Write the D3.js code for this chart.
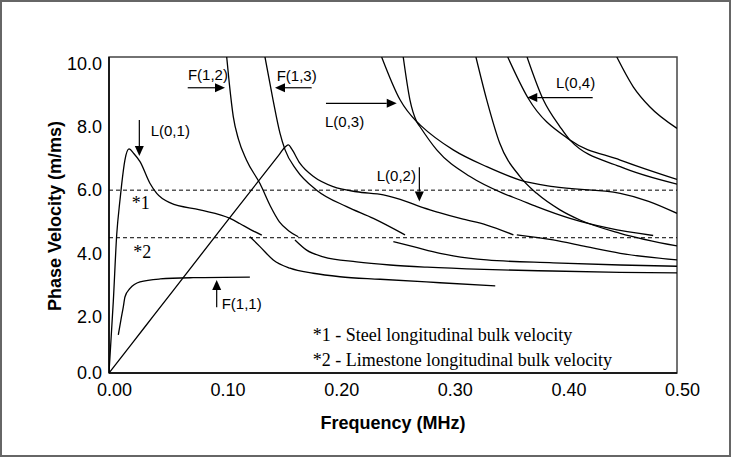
<!DOCTYPE html>
<html>
<head>
<meta charset="utf-8">
<title>Phase velocity dispersion curves</title>
<script src="https://cdn.jsdelivr.net/npm/d3@7"></script>
<style>
body { margin: 0; background: #fff; }
svg text { font-family: "Liberation Sans", Arial, sans-serif; }
.serif { font-family: "Liberation Serif", "Times New Roman", serif; }
</style>
</head>
<body>
<svg id="chart" width="731" height="457"></svg>
<script>
// axis ticks
var xTicks = [0, 0.1, 0.2, 0.3, 0.4, 0.5];
var yTicks = [0, 2, 4, 6, 8, 10];

// bulk velocities (dashed reference lines), m/ms
var bulkVelocities = [6.0, 4.5];

// dispersion curves, [frequency MHz, phase velocity m/ms]
var L01 = [[0,0],[0.0038,2.5],[0.0068,4.6],[0.0097,5.7],[0.0112,6.2],[0.014,6.95],[0.0176,7.3],
  [0.022,7.15],[0.0273,6.9],[0.036,6.22],[0.042,5.9],[0.054,5.6],[0.08,5.38],[0.1065,5.11],
  [0.115,4.95],[0.125,4.75],[0.1345,4.58]];
var F11 = [[0.0082,1.36],[0.0105,1.9],[0.0126,2.32],[0.0141,2.64],[0.0185,2.9],[0.0273,3.11],
  [0.045,3.2],[0.074,3.24],[0.124,3.26]];
var L02 = [[0,0],[0.02,1.04],[0.0386,2.01],[0.1,4.84],[0.15,7.13],[0.1555,7.38],[0.158,7.43],
  [0.1608,7.3],[0.168,6.85],[0.18,6.43],[0.1974,6.11],[0.218,5.95],[0.2415,5.85],[0.262,5.64],
  [0.2738,5.48],[0.29,5.3],[0.31,5.1],[0.3325,4.9],[0.356,4.59]];
var F12 = [[0.1036,10.2],[0.1059,9.37],[0.1094,8.32],[0.114,7.6],[0.121,6.95],[0.133,6.2],
  [0.142,5.5],[0.15,5.0],[0.158,4.72],[0.1666,4.53]];
var F13 = [[0.1373,10.2],[0.1444,8.85],[0.1505,7.8],[0.155,7.27],[0.165,6.64],[0.1828,6.0],
  [0.2092,5.48],[0.2327,5.11],[0.2606,4.59]];
var lowA = [[0.1241,4.53],[0.1329,4.22],[0.1446,3.8],[0.1593,3.54],[0.1798,3.38],[0.2033,3.27],
  [0.2386,3.19],[0.2914,3.08],[0.34,2.98]];
var lowB = [[0.1637,4.43],[0.174,4.11],[0.1886,3.9],[0.218,3.74],[0.2474,3.64],[0.28,3.57],
  [0.33,3.5],[0.39,3.45],[0.45,3.41],[0.5,3.39]];
var lowC = [[0.2503,4.375],[0.2679,4.22],[0.2914,4.01],[0.303,3.93],[0.3325,3.8],[0.391,3.71],
  [0.45,3.64],[0.5,3.6]];
var lowD = [[0.359,4.59],[0.391,4.43],[0.42,4.22],[0.45,4.01],[0.5,3.8]];
var top1 = [[0.240,10.2],[0.2562,8.85],[0.2709,8.16],[0.2738,8.06],[0.303,7.27],[0.3325,6.74],
  [0.3618,6.32],[0.391,6.11],[0.45,5.9],[0.475,5.65],[0.5,5.27]];
var top2 = [[0.259,10.2],[0.2649,8.85],[0.2709,8.16],[0.2738,8.0],[0.2885,7.27],[0.3178,6.43],
  [0.347,5.9],[0.362,5.69],[0.3765,5.48],[0.4058,5.11],[0.44,4.8],[0.479,4.57]];
var top3 = [[0.323,10.2],[0.3325,8.85],[0.344,7.48],[0.3618,6.43],[0.3765,5.9],[0.397,5.38],
  [0.4146,5.06],[0.45,4.64],[0.5,4.24]];
var top4 = [[0.351,10.2],[0.369,8.9],[0.4058,7.58],[0.45,6.95],[0.5,6.34]];
var top5 = [[0.368,10.2],[0.3823,8.85],[0.397,8.0],[0.4058,7.58],[0.45,6.74],[0.5,6.19]];
var top6 = [[0.447,10.2],[0.4615,9.26],[0.476,8.63],[0.5,7.95]];

var curves = [L01, F11, L02, F12, F13, lowA, lowB, lowC, lowD, top1, top2, top3, top4, top5, top6];

// mode labels with their arrows (data units)
var annotations = [
  {text: "F(1,2)", at: [0.0695, 9.46], from: [0.0693, 9.23], to: [0.1021, 9.23]},
  {text: "L(0,1)", at: [0.0367, 7.71], from: [0.0267, 8.21], to: [0.0267, 7.08]},
  {text: "F(1,3)", at: [0.1476, 9.45], from: [0.1784, 9.23], to: [0.1461, 9.23]},
  {text: "L(0,3)", at: [0.1901, 8.0], from: [0.191, 8.74], to: [0.2533, 8.74]},
  {text: "L(0,2)", at: [0.2357, 6.3], from: [0.2732, 6.72], to: [0.2732, 5.64]},
  {text: "L(0,4)", at: [0.3935, 9.21], from: [0.4258, 8.92], to: [0.3682, 8.92]},
  {text: "F(1,1)", at: [0.0992, 2.25], from: [0.0948, 2.31], to: [0.0948, 3.17]}
];
var notes = [
  {text: "*1", at: [0.02, 5.4]},
  {text: "*2", at: [0.0214, 3.85]},
  {text: "*1 - Steel longitudinal bulk velocity", at: [0.1793, 1.14]},
  {text: "*2 - Limestone longitudinal bulk velocity", at: [0.1793, 0.26]}
];

var svg = d3.select("#chart");
var plotL = 109, plotR = 677, plotT = 57, plotB = 373;

var x = d3.scaleLinear().domain([0, 0.5]).range([plotL, plotR]);
var y = d3.scaleLinear().domain([0, 2, 10.2]).range([plotB, 317, plotT]);

svg.append("rect").attr("width", 731).attr("height", 457).attr("fill", "#fff");
svg.append("rect")
  .attr("x", 1).attr("y", 1).attr("width", 729).attr("height", 455)
  .attr("fill", "none").attr("stroke", "#666").attr("stroke-width", 2);

svg.append("clipPath").attr("id", "plotClip")
  .append("rect").attr("x", plotL).attr("y", plotT)
  .attr("width", plotR - plotL).attr("height", plotB - plotT);

// plot frame
svg.append("rect")
  .attr("x", plotL).attr("y", plotT).attr("width", plotR - plotL).attr("height", plotB - plotT)
  .attr("fill", "none").attr("stroke", "#444").attr("stroke-width", 1.5);

// dashed bulk velocity lines
svg.selectAll(".bulk").data(bulkVelocities).enter().append("line")
  .attr("x1", plotL).attr("x2", plotR)
  .attr("y1", function(d) { return y(d); }).attr("y2", function(d) { return y(d); })
  .attr("stroke", "#000").attr("stroke-width", 1).attr("stroke-dasharray", "4,3");

var line = d3.line()
  .x(function(d) { return x(d[0]); })
  .y(function(d) { return y(d[1]); })
  .curve(d3.curveMonotoneX);

svg.append("g").attr("clip-path", "url(#plotClip)")
  .selectAll("path").data(curves).enter().append("path")
  .attr("d", line).attr("fill", "none")
  .attr("stroke", "#000").attr("stroke-width", 1.3);

// axes
var xAxis = svg.append("g").attr("transform", "translate(0," + plotB + ")")
  .call(d3.axisBottom(x).tickValues(xTicks).tickFormat(d3.format(".2f")).tickSize(0).tickPadding(10));
var yAxis = svg.append("g").attr("transform", "translate(" + plotL + ",0)")
  .call(d3.axisLeft(y).tickValues(yTicks).tickFormat(d3.format(".1f")).tickSize(0).tickPadding(7));
[xAxis, yAxis].forEach(function(g) {
  g.select(".domain").remove();
  g.attr("font-family", "Liberation Sans, Arial, sans-serif").attr("font-size", 18).attr("color", "#000");
});
xAxis.selectAll("text").attr("dx", 5);

svg.append("line").attr("x1", plotL).attr("x2", plotL).attr("y1", plotT).attr("y2", plotB)
  .attr("stroke", "#000").attr("stroke-width", 1.5);
svg.append("line").attr("x1", plotL).attr("x2", plotR).attr("y1", plotB).attr("y2", plotB)
  .attr("stroke", "#000").attr("stroke-width", 1.5);

svg.append("text").attr("x", (plotL + plotR) / 2).attr("y", 429)
  .attr("text-anchor", "middle").attr("font-weight", "bold").attr("font-size", 18)
  .text("Frequency (MHz)");
svg.append("text").attr("transform", "translate(60.5,216) rotate(-90)")
  .attr("text-anchor", "middle").attr("font-weight", "bold").attr("font-size", 18)
  .text("Phase Velocity (m/ms)");

// mode labels and arrows
function arrow(p1, p2) {
  var x1 = x(p1[0]), y1 = y(p1[1]), x2 = x(p2[0]), y2 = y(p2[1]);
  var a = Math.atan2(y2 - y1, x2 - x1);
  var len = 10, half = 4.5;
  var bx = x2 - len * Math.cos(a), by = y2 - len * Math.sin(a);
  svg.append("line").attr("x1", x1).attr("y1", y1).attr("x2", bx).attr("y2", by)
    .attr("stroke", "#000").attr("stroke-width", 1.2);
  svg.append("path")
    .attr("d", "M" + x2 + "," + y2 +
      "L" + (bx - half * Math.sin(a)) + "," + (by + half * Math.cos(a)) +
      "L" + (bx + half * Math.sin(a)) + "," + (by - half * Math.cos(a)) + "Z")
    .attr("fill", "#000");
}

annotations.forEach(function(d) {
  svg.append("text").attr("x", x(d.at[0])).attr("y", y(d.at[1]))
    .attr("font-size", 15).text(d.text);
  arrow(d.from, d.to);
});

notes.forEach(function(d) {
  svg.append("text").attr("class", "serif").attr("x", x(d.at[0])).attr("y", y(d.at[1]))
    .attr("font-size", 18).text(d.text);
});
</script>
</body>
</html>
